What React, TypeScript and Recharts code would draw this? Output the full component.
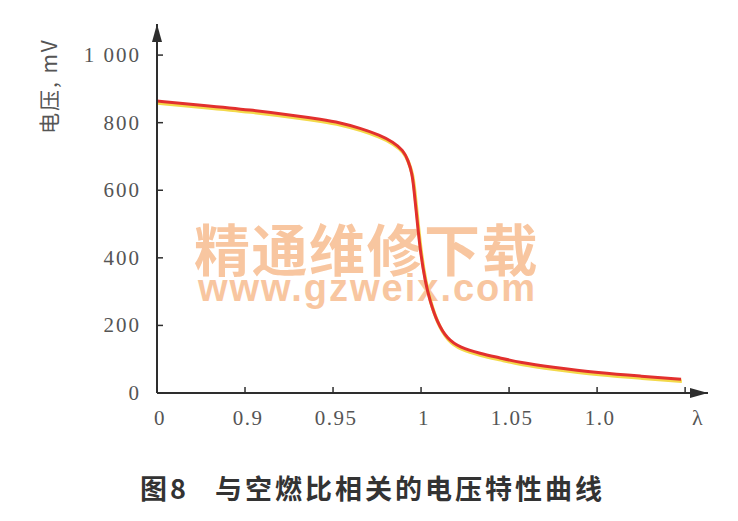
import { LineChart, Line, XAxis, YAxis } from "recharts";

const lambdaValues = [
  0.85, 0.8744, 0.9028, 0.9313, 0.9426, 0.954, 0.9653, 0.9767, 0.9841, 0.9898,
  0.9926, 0.9949, 0.996, 0.9972, 0.9994, 1.0023, 1.0051, 1.0091, 1.0148,
  1.0222, 1.0335, 1.0449, 1.0563, 1.0733, 1.1017, 1.1244, 1.1477,
];
const voltageValues = [
  864, 852, 838, 819, 810, 800, 784, 763, 743, 719, 689, 651, 601, 541, 425,
  330, 272, 210, 160, 134, 117, 104, 90, 77, 59, 50, 41,
];

const xTicks = [0.85, 0.9, 0.95, 1.0, 1.05, 1.1, 1.15];
const xTickLabels = ["0", "0.9", "0.95", "1", "1.05", "1.0", ""];
const yTicks = [0, 200, 400, 600, 800, 1000];
const yTickLabels = ["0", "200", "400", "600", "800", "1 000"];

const data = lambdaValues.map((l, i) => ({ lambda: l, mv: voltageValues[i] }));

const AXIS = "#2e2e2e";
const LABEL = "#555";
const SERIF = "'Liberation Serif', 'DejaVu Serif', serif";
const CJK = "'Noto Sans CJK SC', sans-serif";
const WATER = "#f8c6a0";

const YTick = (props: any) => {
  const { x, y, payload, index } = props;
  return (
    <g>
      <line x1={x} y1={y} x2={x + 6} y2={y} stroke={AXIS} strokeWidth={1.5} />
      <text
        x={x - 16}
        y={y}
        textAnchor="end"
        dominantBaseline="central"
        fontFamily={SERIF}
        fontSize={21}
        letterSpacing={2}
        fill={LABEL}
      >
        {yTickLabels[index] ?? String(payload.value)}
      </text>
    </g>
  );
};

const XTick = (props: any) => {
  const { x, y, index } = props;
  return (
    <g>
      <line x1={x} y1={y} x2={x} y2={y - 6} stroke={AXIS} strokeWidth={1.5} />
      <text
        x={x + 3}
        y={y + 25}
        textAnchor="middle"
        dominantBaseline="central"
        fontFamily={SERIF}
        fontSize={21}
        letterSpacing={1.5}
        fill={LABEL}
      >
        {xTickLabels[index]}
      </text>
    </g>
  );
};

export default function App() {
  return (
    <div
      style={{
        position: "absolute",
        left: 0,
        top: 0,
        width: 738,
        height: 521,
        background: "#fff",
        overflow: "hidden",
      }}
    >
      <style>{`.lambda-shadow { transform: translate(0.8px, 2px); }`}</style>

      {/* arrow marker + watermark, behind the chart */}
      <svg
        width={738}
        height={521}
        style={{ position: "absolute", left: 0, top: 0 }}
      >
        <defs>
          <marker
            id="axis-arrow"
            markerUnits="userSpaceOnUse"
            markerWidth={18}
            markerHeight={12}
            refX={18}
            refY={6}
            orient="auto-start-reverse"
          >
            <path d="M0,1 L18,6 L0,11 Z" fill={AXIS} />
          </marker>
        </defs>
        <text fill={WATER} fontWeight={700}>
          <tspan x={194} y={270.6} fontFamily={CJK} fontSize={56} letterSpacing={1.5}>
            精通维修下载
          </tspan>
          <tspan
            x={198}
            y={301.4}
            fontFamily="'Liberation Sans', Arial, sans-serif"
            fontSize={38}
            letterSpacing={2}
          >
            www.gzweix.com
          </tspan>
        </text>
      </svg>

      <div style={{ position: "absolute", left: 0, top: 0 }}>
        <LineChart
          width={738}
          height={521}
          data={data}
          margin={{ top: 24, right: 30, bottom: 98, left: 97 }}
        >
          <XAxis
            dataKey="lambda"
            type="number"
            domain={[0.85, 1.163]}
            ticks={xTicks}
            allowDataOverflow
            tickLine={false}
            tickSize={0}
            tickMargin={0}
            height={30}
            axisLine={{ stroke: AXIS, strokeWidth: 2, markerEnd: "url(#axis-arrow)" } as any}
            tick={<XTick />}
            interval={0}
          />
          <YAxis
            type="number"
            domain={[0, 1092]}
            ticks={yTicks}
            allowDataOverflow
            tickLine={false}
            tickSize={0}
            tickMargin={0}
            width={60}
            axisLine={{ stroke: AXIS, strokeWidth: 2, markerStart: "url(#axis-arrow)" } as any}
            tick={<YTick />}
            interval={0}
          />
          <Line
            className="lambda-shadow"
            type="basis"
            dataKey="mv"
            stroke="#f3d94a"
            strokeWidth={3.5}
            dot={false}
            activeDot={false}
            isAnimationActive={false}
          />
          <Line
            type="basis"
            dataKey="mv"
            stroke="#e2302e"
            strokeWidth={3}
            dot={false}
            activeDot={false}
            isAnimationActive={false}
          />
        </LineChart>
      </div>

      <div
        style={{
          position: "absolute",
          left: 692,
          top: 407,
          fontFamily: SERIF,
          fontSize: 22,
          lineHeight: 1,
          color: LABEL,
        }}
      >
        λ
      </div>

      <div
        style={{
          position: "absolute",
          left: 48,
          top: 86,
          transform: "translate(-50%, -50%) rotate(-90deg)",
          fontFamily: CJK,
          fontSize: 21,
          lineHeight: 1,
          letterSpacing: 2,
          color: LABEL,
          whiteSpace: "nowrap",
        }}
      >
        电压, mV
      </div>

      <div
        style={{
          position: "absolute",
          left: 140,
          top: 474,
          fontFamily: CJK,
          fontWeight: 700,
          fontSize: 27,
          lineHeight: 1,
          letterSpacing: 3,
          color: "#333",
          whiteSpace: "nowrap",
        }}
      >
        图8<span style={{ display: "inline-block", width: 26 }} />
        与空燃比相关的电压特性曲线
      </div>
    </div>
  );
}
